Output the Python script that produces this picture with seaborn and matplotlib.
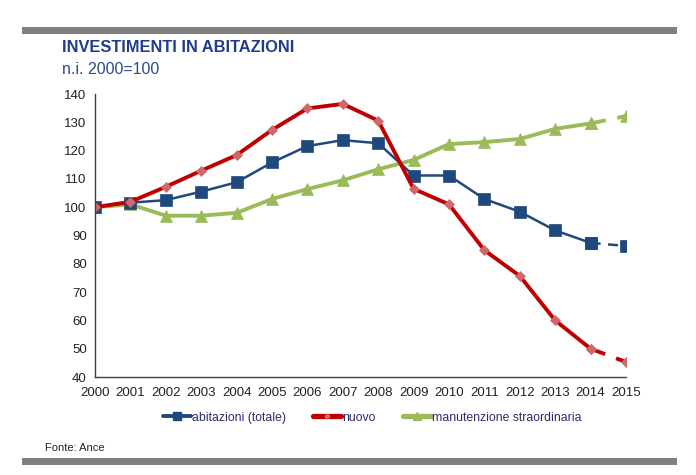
import numpy as np
import pandas as pd
import matplotlib.pyplot as plt
import seaborn as sns
from matplotlib.lines import Line2D
from matplotlib.patches import Rectangle

# Data (index 2000=100)
years = list(range(2000, 2016))
abitazioni = [100, 101.6, 102.5, 105.5, 108.8, 115.8, 121.6, 123.7, 122.6,
              111.2, 111.2, 102.9, 98.4, 91.8, 87.4, 86.3]
nuovo = [100, 101.9, 107.2, 112.9, 118.4, 127.3, 134.9, 136.5, 130.6,
         106.5, 101.0, 84.8, 75.7, 60.0, 50.0, 45.3]
manutenzione = [100, 101.0, 97.0, 97.0, 98.0, 102.9, 106.4, 109.5, 113.4,
                116.7, 122.3, 123.0, 124.1, 127.7, 129.6, 132.2]
labels = ["abitazioni (totale)", "nuovo", "manutenzione straordinaria"]

df = pd.DataFrame({"anno": years, labels[0]: abitazioni,
                   labels[1]: nuovo, labels[2]: manutenzione})

sns.set_style("white")
plt.rcParams['font.family'] = ['Liberation Sans', 'DejaVu Sans']

fig = plt.figure(figsize=(6.96, 4.75), dpi=100)
ax = fig.add_axes([0.1365, 0.2063, 0.7629, 0.5958])

styles = {
    labels[0]: dict(color="#1f497d", lw=1.8, marker="s", ms=8.5, mfc="#1f497d"),
    labels[1]: dict(color="#c00000", lw=2.8, marker="D", ms=5, mfc="#d0686a"),
    labels[2]: dict(color="#9bbb59", lw=2.8, marker="^", ms=8, mfc="#9bbb59"),
}

solid = df[df["anno"] <= 2014]
dashed = df[df["anno"] >= 2014]
for name in [labels[2], labels[0], labels[1]]:
    st = styles[name]
    for part, ls in [(solid, "-"), (dashed, (0, (4, 3)))]:
        sns.lineplot(data=part, x="anno", y=name, ax=ax, color=st["color"],
                     linewidth=st["lw"], linestyle=ls, marker=st["marker"],
                     markersize=st["ms"], markerfacecolor=st["mfc"],
                     markeredgecolor=st["mfc"], markeredgewidth=0.5)

ax.set_xlim(2000, 2015)
ax.set_ylim(40, 140)
ax.set_xticks(years)
ax.set_yticks(range(40, 141, 10))
ax.set_xlabel("")
ax.set_ylabel("")
for s in ["top", "right"]:
    ax.spines[s].set_visible(False)
for s in ["left", "bottom"]:
    ax.spines[s].set_color("#404040")
    ax.spines[s].set_linewidth(1.0)
ax.tick_params(axis="both", direction="out", length=4, width=1.0,
               color="#404040", labelsize=9.5, labelcolor="#222222")
ax.tick_params(axis="x", pad=3)
ax.tick_params(axis="y", pad=2)
ax.grid(False)

handles = [Line2D([], [], color=styles[n]["color"], lw=styles[n]["lw"] + 1,
                  marker=styles[n]["marker"], ms=styles[n]["ms"] - 2.5,
                  mfc=styles[n]["mfc"], mec=styles[n]["mfc"]) for n in labels]
leg = fig.legend(handles, labels, loc="center", bbox_to_anchor=(0.535, 0.121),
                 ncol=3, frameon=False, fontsize=8.8, handlelength=2.3,
                 handletextpad=0.1, columnspacing=2.2)
for t in leg.get_texts():
    t.set_color("#2b2b6e")

fig.text(0.089, 0.901, "INVESTIMENTI IN ABITAZIONI", fontsize=11.8,
         fontweight="bold", color="#1f3c8f", va="center", ha="left")
fig.text(0.089, 0.853, "n.i. 2000=100", fontsize=11.5, color="#2a4a8a",
         va="center", ha="left")
fig.text(0.065, 0.057, "Fonte: Ance", fontsize=8, color="#222222",
         va="center", ha="left")

fig.add_artist(Rectangle((0.032, 0.929), 0.940, 0.015,
                         transform=fig.transFigure, color="#808080", lw=0))
fig.add_artist(Rectangle((0.032, 0.021), 0.940, 0.015,
                         transform=fig.transFigure, color="#808080", lw=0))

fig.savefig("out.png", dpi=100)
